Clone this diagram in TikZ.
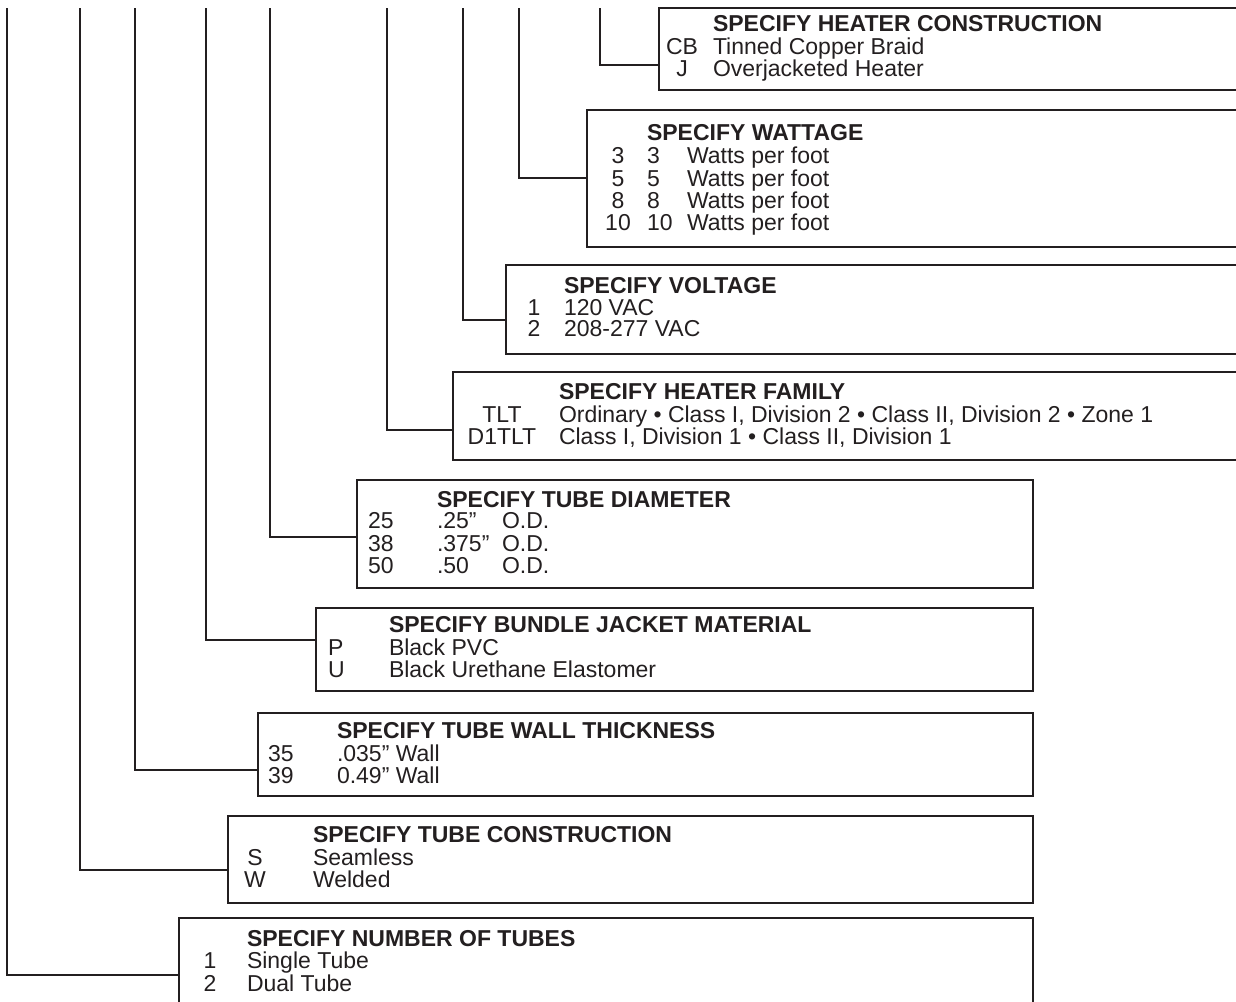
\documentclass[tikz,border=0pt]{standalone}
\usepackage{fontspec}
\setmainfont{Liberation Sans}
\definecolor{ink}{HTML}{231F20}
\begin{document}
\begin{tikzpicture}[x=1pt,y=-1pt,
  every node/.style={inner sep=0pt, outer sep=0pt, text=ink},
  optbox/.style={draw=ink, line width=2pt, anchor=north west, rectangle},
  conn/.style={draw=ink, line width=2pt},
  ttl/.style={anchor=base west, font=\fontsize{23}{23}\selectfont\bfseries},
  txt/.style={anchor=base west, font=\fontsize{23}{23}\selectfont},
  txtc/.style={anchor=base, font=\fontsize{23}{23}\selectfont},
  txtr/.style={anchor=base east, font=\fontsize{23}{23}\selectfont}]
\useasboundingbox (0,0) rectangle (1236,1001);
\clip (0,0) rectangle (1236,1001);

% ---------- boxes ----------
\node[optbox, minimum width=600pt, minimum height=82pt] (HC) at (659,8) {};
\node[optbox, minimum width=670pt, minimum height=137pt] (W) at (587,110) {};
\node[optbox, minimum width=750pt, minimum height=89pt] (V) at (506,265) {};
\node[optbox, minimum width=800pt, minimum height=88pt] (HF) at (453,372) {};
\node[optbox, minimum width=676pt, minimum height=108pt] (TD) at (357,480) {};
\node[optbox, minimum width=717pt, minimum height=83pt] (BJ) at (316,608) {};
\node[optbox, minimum width=775pt, minimum height=83pt] (WT) at (258,713) {};
\node[optbox, minimum width=805pt, minimum height=87pt] (TC) at (228,816) {};
\node[optbox, minimum width=854pt, minimum height=100pt] (NT) at (179,918) {};

% ---------- connector ends ----------
\coordinate (sHC) at (600,8);  \coordinate (eHC) at (659,65);
\coordinate (sW)  at (519,8);  \coordinate (eW)  at (587,178);
\coordinate (sV)  at (463,8);  \coordinate (eV)  at (506,320);
\coordinate (sHF) at (387,8);  \coordinate (eHF) at (453,430);
\coordinate (sTD) at (270,8);  \coordinate (eTD) at (357,537);
\coordinate (sBJ) at (206,8);  \coordinate (eBJ) at (316,640);
\coordinate (sWT) at (135,8);  \coordinate (eWT) at (258,770);
\coordinate (sTC) at (80,8);   \coordinate (eTC) at (228,870);
\coordinate (sNT) at (7,8);    \coordinate (eNT) at (179,975);
\foreach \n in {HC,W,V,HF,TD,BJ,WT,TC,NT}
  \draw[conn] (s\n) |- (e\n);

% ---------- heater construction ----------
\node[ttl] (hcT) at (713,31) {SPECIFY HEATER CONSTRUCTION};
\node[txtc] (hc1c) at (682,54) {CB};
\node[txt]  (hc1d) at (713,54) {Tinned Copper Braid};
\node[txtc] (hc2c) at (682,76) {J};
\node[txt]  (hc2d) at (713,76) {Overjacketed Heater};

% ---------- wattage ----------
\node[ttl] (wT) at (647,140) {SPECIFY WATTAGE};
\foreach \c/\yy [count=\i] in {3/163,5/186,8/208,10/230}{
  \node[txtc] (w\i a) at (618,\yy) {\c};
  \node[txt]  (w\i b) at (647,\yy) {\c};
  \node[txt]  (w\i c) at (687,\yy) {Watts per foot};
}

% ---------- voltage ----------
\node[ttl] (vT) at (564,293) {SPECIFY VOLTAGE};
\node[txtc] (v1c) at (534,315) {1};
\node[txt]  (v1d) at (564,315) {120 VAC};
\node[txtc] (v2c) at (534,336) {2};
\node[txt]  (v2d) at (564,336) {208-277 VAC};

% ---------- heater family ----------
\node[ttl] (hfT) at (559,399) {SPECIFY HEATER FAMILY};
\node[txtc] (hf1c) at (502,422) {TLT};
\node[txt]  (hf1d) at (559,422) {Ordinary • Class I, Division 2 • Class II, Division 2 • Zone 1};
\node[txtc] (hf2c) at (502,444) {D1TLT};
\node[txt]  (hf2d) at (559,444) {Class I, Division 1 • Class II, Division 1};

% ---------- tube diameter ----------
\node[ttl] (tdT) at (437,507) {SPECIFY TUBE DIAMETER};
\node[txt] (td1a) at (368,528) {25};
\node[txt] (td1b) at (437,528) {.25”};
\node[txt] (td1c) at (502,528) {O.D.};
\node[txt] (td2a) at (368,551) {38};
\node[txt] (td2b) at (437,551) {.375”};
\node[txt] (td2c) at (502,551) {O.D.};
\node[txt] (td3a) at (368,573) {50};
\node[txt] (td3b) at (437,573) {.50};
\node[txt] (td3c) at (502,573) {O.D.};

% ---------- bundle jacket ----------
\node[ttl] (bjT) at (389,632) {SPECIFY BUNDLE JACKET MATERIAL};
\node[txt] (bj1c) at (328,655) {P};
\node[txt] (bj1d) at (389,655) {Black PVC};
\node[txt] (bj2c) at (328,677) {U};
\node[txt] (bj2d) at (389,677) {Black Urethane Elastomer};

% ---------- wall thickness ----------
\node[ttl] (wtT) at (337,738) {SPECIFY TUBE WALL THICKNESS};
\node[txt] (wt1c) at (268,761) {35};
\node[txt] (wt1d) at (337,761) {.035” Wall};
\node[txt] (wt2c) at (268,783) {39};
\node[txt] (wt2d) at (337,783) {0.49” Wall};

% ---------- tube construction ----------
\node[ttl] (tcT) at (313,842) {SPECIFY TUBE CONSTRUCTION};
\node[txtc] (tc1c) at (255,865) {S};
\node[txt]  (tc1d) at (313,865) {Seamless};
\node[txtc] (tc2c) at (255,887) {W};
\node[txt]  (tc2d) at (313,887) {Welded};

% ---------- number of tubes ----------
\node[ttl] (ntT) at (247,946) {SPECIFY NUMBER OF TUBES};
\node[txtc] (nt1c) at (210,968) {1};
\node[txt]  (nt1d) at (247,968) {Single Tube};
\node[txtc] (nt2c) at (210,991) {2};
\node[txt]  (nt2d) at (247,991) {Dual Tube};
\end{tikzpicture}
\end{document}
